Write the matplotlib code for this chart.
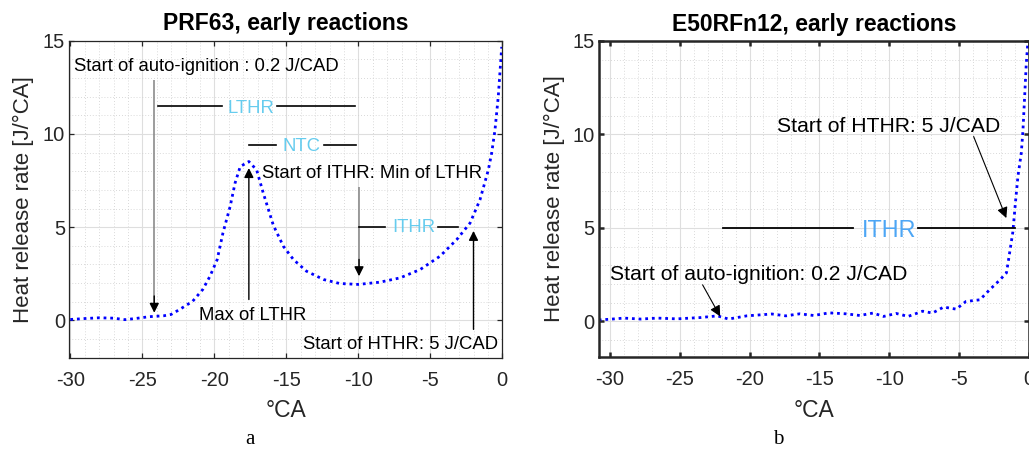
import matplotlib
matplotlib.use("Agg")
import matplotlib.pyplot as plt
from matplotlib.ticker import MultipleLocator

plt.rcParams['font.family'] = ['Liberation Sans', 'DejaVu Sans']
plt.rcParams['axes.unicode_minus'] = False

# ---- PRF63 heat release rate, early reactions ----
ca_prf = [-30.0, -29.0, -28.0, -27.0, -26.2, -25.5, -24.5, -23.5, -23.0, -22.4,
          -21.5, -20.8, -20.3, -19.8, -19.4, -18.9, -18.56, -18.2, -17.6, -17.06,
          -16.6, -15.9, -15.2, -14.5, -13.6, -12.4, -11.3, -10.0, -8.5, -7.1,
          -5.7, -4.33, -3.17, -2.24, -1.55, -0.97, -0.74, -0.51, -0.28, -0.04]
hrr_prf = [0.05, 0.10, 0.14, 0.12, 0.04, 0.10, 0.20, 0.25, 0.32, 0.59,
           1.03, 1.66, 2.37, 3.26, 4.69, 6.11, 7.36, 8.25, 8.52, 8.07,
           6.83, 5.10, 3.97, 3.26, 2.64, 2.19, 1.98, 1.93, 2.05, 2.28,
           2.73, 3.44, 4.33, 5.22, 6.47, 8.07, 8.97, 10.2, 12.0, 14.67]

# ---- E50RFn12 heat release rate, early reactions ----
ca_e50 = [-30.8, -30.0, -29.0, -27.8, -26.6, -25.2, -23.5, -22.3, -21.5, -20.2,
          -18.4, -17.4, -16.4, -15.4, -14.3, -13.1, -12.1, -11.15, -10.4, -9.5,
          -8.65, -7.6, -6.9, -6.1, -5.2, -4.5, -3.5, -2.8, -2.1, -1.6,
          -1.45, -1.14, -0.94, -0.78, -0.54, -0.42, -0.30, -0.18, -0.06]
hrr_e50 = [0.08, 0.12, 0.18, 0.13, 0.18, 0.14, 0.21, 0.30, 0.13, 0.30,
           0.40, 0.30, 0.41, 0.32, 0.46, 0.41, 0.32, 0.45, 0.27, 0.43,
           0.27, 0.55, 0.45, 0.77, 0.66, 1.07, 1.16, 1.70, 2.20, 2.60,
           3.30, 4.80, 6.50, 7.75, 9.00, 10.2, 12.0, 13.8, 15.0]

x_ticks = [-30, -25, -20, -15, -10, -5, 0]
y_ticks = [0, 5, 10, 15]
titles = ["PRF63, early reactions", "E50RFn12, early reactions"]
captions = ["a", "b"]

LIGHT_BLUE = '#66ccee'
MID_BLUE = '#4da6f5'
TXT = '#262626'

fig = plt.figure(figsize=(10.29, 4.49), dpi=100)
W, H = 1029.0, 449.0


def px_axes(left, top, right, bottom):
    return fig.add_axes([left / W, 1 - bottom / H, (right - left) / W, (bottom - top) / H])


def style(ax, xlim, ylim, spine_lw):
    ax.set_xlim(*xlim)
    ax.set_ylim(*ylim)
    ax.set_xticks(x_ticks)
    ax.set_yticks(y_ticks)
    ax.xaxis.set_minor_locator(MultipleLocator(1))
    ax.yaxis.set_minor_locator(MultipleLocator(1))
    ax.grid(which='major', color='#dedede', lw=0.8, ls='-')
    ax.grid(which='minor', color='#cdcdcd', lw=0.6, ls=(0, (1, 2.5)))
    ax.set_axisbelow(True)
    ax.tick_params(which='major', direction='in', top=True, right=True,
                   length=3.5, width=spine_lw, labelsize=14.5, colors=TXT,
                   pad=9.5)
    ax.tick_params(axis='y', pad=3)
    ax.tick_params(which='minor', length=0)
    for s in ax.spines.values():
        s.set_linewidth(spine_lw)
        s.set_color(TXT)
    ax.set_xlabel("°CA", fontsize=16.5, color=TXT)
    ax.set_ylabel("Heat release rate [J/°CA]", fontsize=16, color=TXT)
    ax.xaxis.label.set_va('baseline')
    ax.yaxis.label.set_va('baseline')


def arrow(ax, tail, tip, color='k', lw=1.0, scale=14):
    ax.annotate('', xy=tip, xytext=tail,
                arrowprops=dict(arrowstyle='-|>', color=color, lw=lw,
                                shrinkA=0, shrinkB=0, mutation_scale=scale))


def gray_arrow(ax, x, y0, y1):
    # gray shaft with a black head at the lower end
    ax.plot([x, x], [y0, y1 + 0.3], color='#8c8c8c', lw=1.2, solid_capstyle='butt')
    arrow(ax, (x, y1 + 0.9), (x, y1), color='k', lw=1.0)


line_kw = dict(color=(0, 0, 1), lw=2.0, ls=(0, (1, 1.4)), dash_capstyle='butt')

# ---------------- panel a ----------------
ax1 = px_axes(69.3, 40.7, 502.3, 357.7)
style(ax1, (-30.07, 0), (-2, 15), 0.9)
ax1.plot(ca_prf, hrr_prf, **line_kw)
ax1.set_title(titles[0], fontsize=16.5, fontweight='bold', color='k', pad=7.5)
ax1.xaxis.set_label_coords(0.5, -0.188)
ax1.yaxis.set_label_coords(-0.0924, 0.5)

ax1.text(-29.75, 13.37, "Start of auto-ignition : 0.2 J/CAD", fontsize=13.3,
         color='k', ha='left', va='baseline')
gray_arrow(ax1, -24.17, 12.9, 0.41)

ax1.plot([-23.9, -19.5], [11.5, 11.5], color='k', lw=1.2)
ax1.plot([-15.67, -10.2], [11.5, 11.5], color='k', lw=1.2)
ax1.text(-17.47, 11.14, "LTHR", fontsize=13.3, color=LIGHT_BLUE, ha='center', va='baseline')

ax1.plot([-17.6, -15.7], [9.43, 9.43], color='k', lw=1.2)
ax1.plot([-12.4, -10.16], [9.43, 9.43], color='k', lw=1.2)
ax1.text(-13.93, 9.09, "NTC", fontsize=13.3, color=LIGHT_BLUE, ha='center', va='baseline')

ax1.text(-9.03, 7.63, "Start of ITHR: Min of LTHR", fontsize=13.3,
         color='k', ha='center', va='baseline')
gray_arrow(ax1, -9.95, 7.13, 2.37)
ax1.plot([-9.95, -8.15], [5.0, 5.0], color='k', lw=1.2)
ax1.plot([-4.44, -3.05], [5.0, 5.0], color='k', lw=1.2)
ax1.text(-6.13, 4.74, "ITHR", fontsize=13.3, color=LIGHT_BLUE, ha='center', va='baseline')

arrow(ax1, (-17.6, 1.12), (-17.6, 8.17))
ax1.text(-17.36, 0.0, "Max of LTHR", fontsize=13.3, color='k', ha='center', va='baseline')

arrow(ax1, (-2.0, -0.48), (-2.0, 4.8))
ax1.text(-0.3, -1.51, "Start of HTHR: 5 J/CAD", fontsize=13.3, color='k',
         ha='right', va='baseline')

# ---------------- panel b ----------------
ax2 = px_axes(598.7, 41.0, 1028.8, 357.0)
style(ax2, (-30.8, 0), (-1.9, 15), 1.8)
ax2.plot(ca_e50, hrr_e50, clip_on=True, **line_kw)
ax2.set_title(titles[1], fontsize=16.5, fontweight='bold', color='k', pad=7.0)
ax2.xaxis.set_label_coords(0.501, -0.189)
ax2.yaxis.set_label_coords(-0.09, 0.5)

ax2.text(-10.05, 10.12, "Start of HTHR: 5 J/CAD", fontsize=15.2, color='k',
         ha='center', va='baseline')
arrow(ax2, (-3.95, 9.89), (-1.61, 5.53), lw=0.8, scale=16)

ax2.plot([-21.88, -12.58], [5.02, 5.02], color='k', lw=1.3)
ax2.plot([-7.93, -1.02], [5.02, 5.02], color='k', lw=1.3)
ax2.text(-10.0, 4.51, "ITHR", fontsize=16.8, color=MID_BLUE, ha='center', va='baseline')

ax2.text(-29.97, 2.23, "Start of auto-ignition: 0.2 J/CAD", fontsize=15.2,
         color='k', ha='left', va='baseline')
arrow(ax2, (-23.36, 1.96), (-22.1, 0.27), lw=0.8, scale=16)

# sub-figure captions
fig.text(250 / W, 1 - 444.5 / H, captions[0], fontsize=15, family='Liberation Serif',
         ha='center', va='baseline', color='k')
fig.text(778.3 / W, 1 - 444.5 / H, captions[1], fontsize=15, family='Liberation Serif',
         ha='center', va='baseline', color='k')

fig.savefig("out.png", dpi=100, facecolor='white')
